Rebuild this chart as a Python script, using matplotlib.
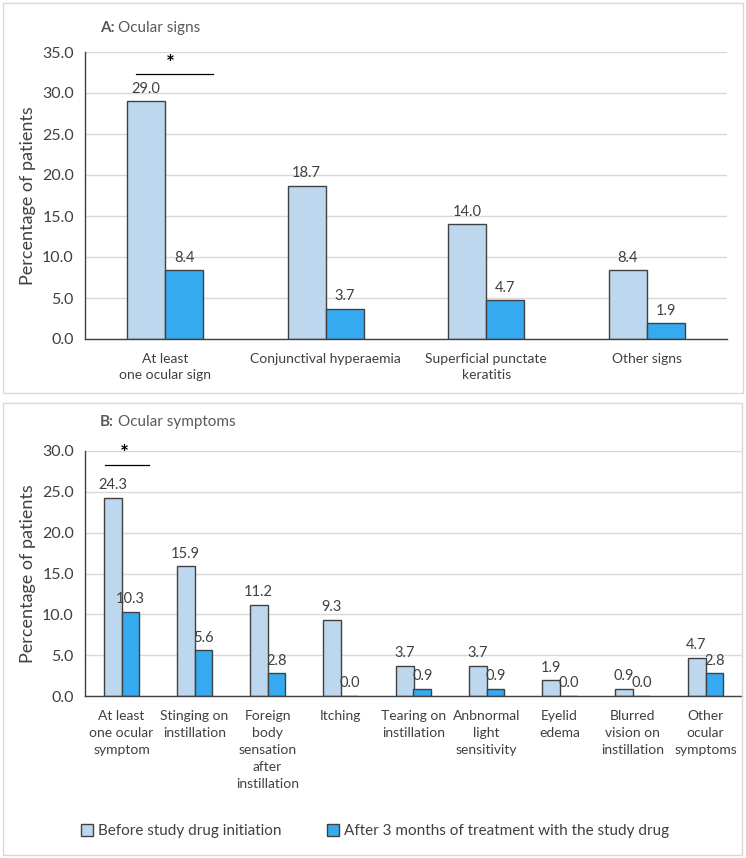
import numpy as np
import matplotlib.pyplot as plt
from matplotlib.patches import Rectangle

plt.rcParams['font.family'] = ['Lato', 'DejaVu Sans']

# ---- data ----
signs_labels = ["At least\none ocular sign", "Conjunctival hyperaemia",
                "Superficial punctate\nkeratitis", "Other signs"]
signs_before = [29.0, 18.7, 14.0, 8.4]
signs_after = [8.4, 3.7, 4.7, 1.9]

symp_labels = ["At least\none ocular\nsymptom", "Stinging on\ninstillation",
               "Foreign\nbody\nsensation\nafter\ninstillation", "Itching",
               "Tearing on\ninstillation", "Anbnormal\nlight\nsensitivity",
               "Eyelid\nedema", "Blurred\nvision on\ninstillation",
               "Other\nocular\nsymptoms"]
symp_before = [24.3, 15.9, 11.2, 9.3, 3.7, 3.7, 1.9, 0.9, 4.7]
symp_after = [10.3, 5.6, 2.8, 0.0, 0.9, 0.9, 0.0, 0.0, 2.8]

legend_labels = ["Before study drug initiation",
                 "After 3 months of treatment with the study drug"]

C_LIGHT = "#BDD7EE"
C_DARK = "#36AAF0"
C_EDGE = "#404040"
C_TEXT = "#595959"
W, H = 746, 858


def fx(px):
    return px / W


def fy(py):
    return 1 - py / H


fig = plt.figure(figsize=(W / 100, H / 100), dpi=100)

# marcos de los paneles
for (x0, y0, x1, y1) in [(3, 3, 743, 393), (3, 403, 742, 855)]:
    fig.patches.append(Rectangle((fx(x0), fy(y1)), fx(x1 - x0), (y1 - y0) / H,
                                 transform=fig.transFigure, fill=False,
                                 edgecolor="#D9D9D9", lw=1))


def panel(ax, labels, before, after, ymax, width, star, ls):
    x = np.arange(len(labels))
    b1 = ax.bar(x - width / 2, before, width, color=C_LIGHT, edgecolor=C_EDGE, lw=1,
                label=legend_labels[0])
    b2 = ax.bar(x + width / 2, after, width, color=C_DARK, edgecolor=C_EDGE, lw=1,
                label=legend_labels[1])
    for bars in (b1, b2):
        for r in bars:
            ax.annotate(f"{r.get_height():.1f}", (r.get_x() + r.get_width() / 2, r.get_height()),
                        xytext=(0, 4), textcoords="offset points", ha="center", va="bottom",
                        fontsize=10.5, color=C_EDGE)
    ax.set_xlim(-0.5, len(labels) - 0.5)
    ax.set_ylim(0, ymax)
    yt = np.arange(0, ymax + 0.1, 5)
    ax.set_yticks(yt)
    ax.set_yticklabels([f"{v:.1f}" for v in yt], fontsize=11.5, color="#404040")
    ax.set_xticks(x)
    ax.set_xticklabels(labels, fontsize=10, color="#404040", linespacing=ls)
    ax.tick_params(length=0, pad=8)
    ax.tick_params(axis="x", pad=10)
    ax.grid(axis="y", color="#D9D9D9", lw=1)
    ax.set_axisbelow(True)
    for s in ("top", "right"):
        ax.spines[s].set_visible(False)
    for s in ("left", "bottom"):
        ax.spines[s].set_color(C_EDGE)
        ax.spines[s].set_linewidth(1)
    ax.set_ylabel("Percentage of patients", fontsize=13, color="#404040", labelpad=4)
    x0, x1, ys = star
    ax.plot([x0, x1], [ys, ys], color="#000000", lw=0.9, clip_on=False)
    ax.text((x0 + x1) / 2 - 0.03, ys + ymax * 0.002, "*", ha="center", va="bottom",
            fontsize=15, fontweight="bold", color="#000000")
    return b1, b2


axA = fig.add_axes([fx(85), fy(339), fx(727 - 85), (339 - 52) / H])
panel(axA, signs_labels, signs_before, signs_after, 35, 0.237, (-0.18, 0.30, 32.3), 1.4)

axB = fig.add_axes([fx(85), fy(696), fx(742 - 85), (696 - 451) / H])
h1, h2 = panel(axB, symp_labels, symp_before, symp_after, 30, 0.245, (-0.23, 0.38, 28.3), 1.5)

# titulos de los paneles
for (px, py, tag, rest) in [(100, 28, "A:", "Ocular signs"), (100, 422, "B:", "Ocular symptoms")]:
    t = fig.text(fx(px), fy(py), tag, fontsize=11, fontweight="bold", color=C_TEXT,
                 va="center", ha="left")
    fig.canvas.draw()
    bb = t.get_window_extent()
    fig.text(bb.x1 / W + fx(4), fy(py), rest, fontsize=11, color=C_TEXT, va="center", ha="left")

fig.legend([h1, h2], legend_labels, loc="center", bbox_to_anchor=(fx(375), fy(831)),
           ncol=2, frameon=False, fontsize=11, handlelength=0.8, handleheight=0.8,
           handletextpad=0.3, columnspacing=3.0, labelcolor="#404040")

fig.savefig("out.png", dpi=100)
